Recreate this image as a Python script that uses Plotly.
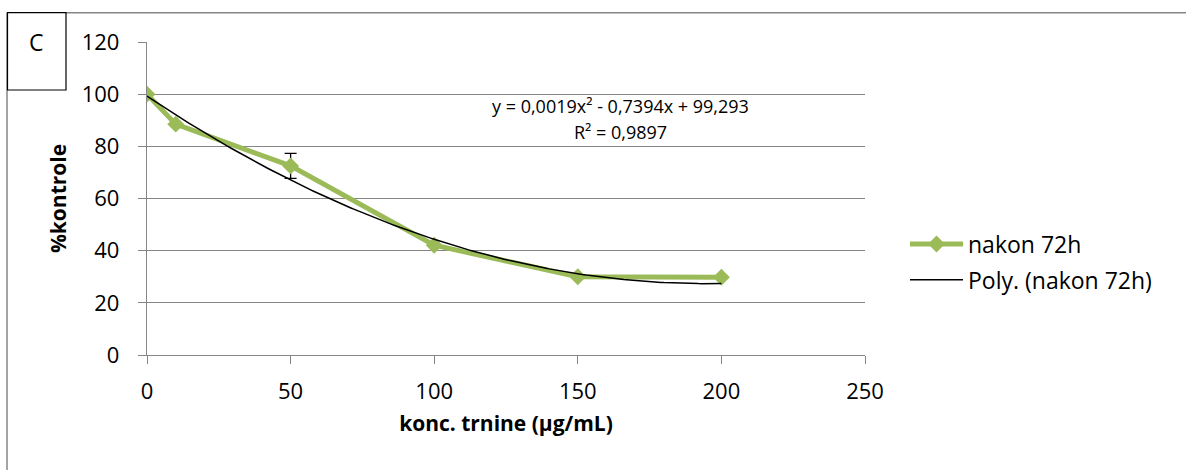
import numpy as np
import plotly.graph_objects as go

# ---- data ----
conc = [0, 10, 50, 100, 150, 200]
kontrole = [100, 88.5, 72.5, 42.1, 30.0, 29.8]
err = [0, 0, 4.8, 0, 0, 0]
series_name = "nakon 72h"
trend_name = "Poly. (nakon 72h)"
trend_coefs = [0.0019, -0.7394, 99.293]   # y = a x^2 + b x + c (Excel trendline)
trend_x_range = [0, 200]
x_ticks = [0, 50, 100, 150, 200, 250]
y_ticks = [0, 20, 40, 60, 80, 100, 120]
eq_line1 = "y = 0,0019x² - 0,7394x + 99,293"
eq_line2 = "R² = 0,9897"
panel_label = "C"

FONT = "Open Sans"
GREEN = "#9BBB59"
GRAY = "#868686"

W, H = 1186, 470
L, R, T, B = 147, 321, 42, 115
PW, PH = W - L - R, H - T - B

def px_x(px):
    return (px - L) / PW

def px_y(py):
    return (H - B - py) / PH

tx = np.linspace(trend_x_range[0], trend_x_range[1], 201)
ty = np.polyval(trend_coefs, tx)

fig = go.Figure()
fig.add_trace(go.Scatter(
    x=conc, y=kontrole, name=series_name, mode="lines+markers",
    line=dict(color=GREEN, width=5),
    marker=dict(symbol="diamond", size=13, color=GREEN),
    error_y=dict(type="data", array=err, visible=True, color="black",
                 thickness=1.3, width=6),
    legendgroup="a",
))
fig.add_trace(go.Scatter(
    x=tx, y=ty, name=trend_name, mode="lines",
    line=dict(color="black", width=1.5),
    legendgroup="b",
))

shapes = [
    dict(type="line", xref="paper", yref="paper", x0=px_x(7), x1=px_x(W + 5),
         y0=px_y(12.7), y1=px_y(12.7), line=dict(color=GRAY, width=1.5)),
    dict(type="line", xref="paper", yref="paper", x0=px_x(7), x1=px_x(7),
         y0=px_y(12.7), y1=px_y(H + 5), line=dict(color=GRAY, width=1.5)),
    dict(type="rect", xref="paper", yref="paper", x0=px_x(7.5), x1=px_x(66),
         y0=px_y(90), y1=px_y(12.7), line=dict(color="black", width=1.2),
         fillcolor="white"),
]

annotations = [
    dict(text=panel_label, xref="paper", yref="paper", x=px_x(36), y=px_y(42),
         showarrow=False, font=dict(family=FONT, size=23, color="black"),
         xanchor="center", yanchor="middle"),
    dict(text=eq_line1, xref="paper", yref="paper", x=px_x(620), y=px_y(106),
         showarrow=False, font=dict(family=FONT, size=18, color="black"),
         xanchor="center", yanchor="middle"),
    dict(text=eq_line2, xref="paper", yref="paper", x=px_x(620), y=px_y(132),
         showarrow=False, font=dict(family=FONT, size=18, color="black"),
         xanchor="center", yanchor="middle"),
]

fig.update_layout(
    width=W, height=H,
    margin=dict(l=L, r=R, t=T, b=B),
    paper_bgcolor="white", plot_bgcolor="white",
    font=dict(family=FONT, color="black", size=22),
    shapes=shapes, annotations=annotations,
    showlegend=True,
    legend=dict(x=px_x(905), y=px_y(262), xanchor="left", yanchor="middle",
                font=dict(family=FONT, size=23, color="black"),
                itemwidth=53, tracegroupgap=3, bgcolor="rgba(0,0,0,0)"),
    xaxis=dict(range=[0, 250], tickvals=x_ticks, showgrid=False,
               showline=True, linecolor=GRAY, linewidth=1.3,
               ticks="outside", ticklen=8, tickcolor=GRAY, tickwidth=1.3,
               ticklabelstandoff=8,
               tickfont=dict(family=FONT, size=22), zeroline=False,
               title=dict(text="<b>konc. trnine (µg/mL)</b>", standoff=12,
                          font=dict(family=FONT, size=21))),
    yaxis=dict(range=[0, 120], tickvals=y_ticks, showgrid=True,
               gridcolor=GRAY, gridwidth=1.3,
               showline=True, linecolor=GRAY, linewidth=1.3,
               ticks="outside", ticklen=8, tickcolor=GRAY, tickwidth=1.3,
               ticklabelstandoff=14,
               tickfont=dict(family=FONT, size=22), zeroline=False,
               title=dict(text="<b>%kontrole</b>", standoff=9,
                          font=dict(family=FONT, size=21))),
)

fig.write_html("out.html", config={"displayModeBar": False},
               post_script="document.body.style.margin='0';")
